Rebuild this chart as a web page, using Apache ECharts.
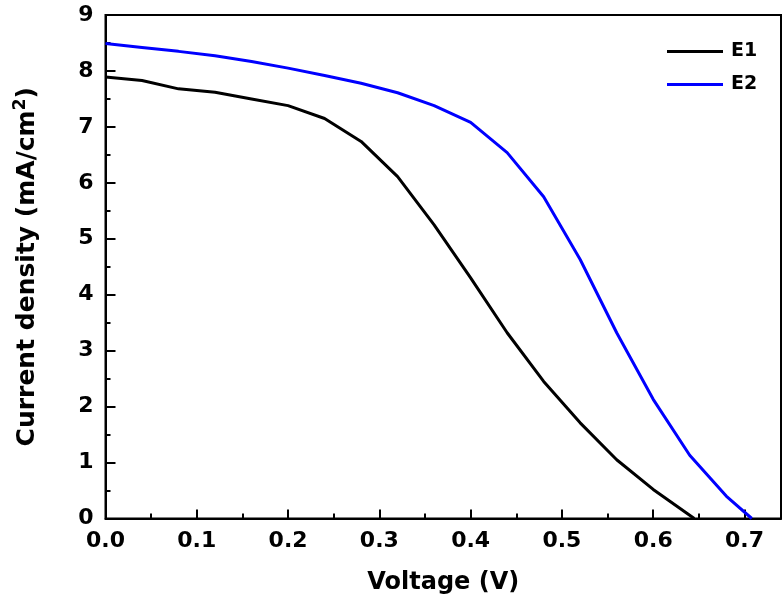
<!DOCTYPE html>
<html>
<head>
<meta charset="utf-8">
<script src="https://cdn.jsdelivr.net/npm/echarts@6/dist/echarts.min.js"></script>
<style>html,body{margin:0;padding:0;background:#fff}#c{width:784px;height:608px}</style>
</head>
<body>
<div id="c"></div>
<script>
var voltageE1 = [0, 0.04, 0.08, 0.12, 0.16, 0.20, 0.24, 0.28, 0.32, 0.36, 0.40, 0.44, 0.48, 0.52, 0.56, 0.60, 0.645];
var currentE1 = [7.89, 7.83, 7.68, 7.62, 7.50, 7.38, 7.15, 6.74, 6.11, 5.25, 4.30, 3.32, 2.45, 1.71, 1.05, 0.52, 0];
var voltageE2 = [0, 0.04, 0.08, 0.12, 0.16, 0.20, 0.24, 0.28, 0.32, 0.36, 0.40, 0.44, 0.48, 0.52, 0.56, 0.60, 0.64, 0.68, 0.708];
var currentE2 = [8.49, 8.42, 8.35, 8.27, 8.17, 8.05, 7.92, 7.78, 7.61, 7.38, 7.08, 6.54, 5.75, 4.63, 3.32, 2.13, 1.13, 0.40, 0];
var seriesNames = ['E1', 'E2'];
var seriesColors = ['#000000', '#0000ff'];
var xTitle = 'Voltage (V)';
var yTitle = 'Current density (mA/cm';

function pairs(xs, ys) { return xs.map(function (x, i) { return [x, ys[i]]; }); }

var FONT = '"DejaVu Sans", sans-serif';
var chart = echarts.init(document.getElementById('c'), null, { renderer: 'canvas' });
chart.setOption({
  animation: false,
  backgroundColor: '#fff',
  grid: { left: 105.5, right: 3, top: 15, bottom: 89.5, show: true, borderColor: '#000', borderWidth: 2, backgroundColor: 'transparent' },
  legend: {
    orient: 'vertical', left: 667, top: 42, padding: 0,
    icon: 'rect', itemWidth: 56, itemHeight: 3, itemGap: 14,
    textStyle: { fontFamily: FONT, fontWeight: 'bold', fontSize: 19, color: '#000', padding: [0, 0, 0, 3] },
    data: seriesNames
  },
  xAxis: {
    type: 'value', min: 0, max: 0.74, interval: 0.1,
    name: xTitle, nameLocation: 'middle', nameGap: 52,
    nameTextStyle: { fontFamily: FONT, fontWeight: 'bold', fontSize: 24, color: '#000' },
    axisLine: { show: true, lineStyle: { color: '#000', width: 2 } },
    axisTick: { show: true, inside: true, length: 9, lineStyle: { color: '#000', width: 2 } },
    minorTick: { show: true, splitNumber: 2, length: 5, lineStyle: { color: '#000', width: 2 } },
    axisLabel: { margin: 12, fontFamily: FONT, fontWeight: 'bold', fontSize: 22, color: '#000', showMaxLabel: false,
      formatter: function (v) { return v.toFixed(1); } },
    splitLine: { show: false }
  },
  yAxis: {
    type: 'value', min: 0, max: 9, interval: 1,
    name: '{a|' + yTitle + '}{s|2}{a|)}', nameLocation: 'middle', nameGap: 64, nameRotate: 90,
    nameTextStyle: {
      rich: {
        a: { fontFamily: FONT, fontWeight: 'bold', fontSize: 25, color: '#000' },
        s: { fontFamily: FONT, fontWeight: 'bold', fontSize: 17, color: '#000', verticalAlign: 'top', padding: [0, 0, 12, 0] }
      }
    },
    axisLine: { show: true, lineStyle: { color: '#000', width: 2 } },
    axisTick: { show: true, inside: true, length: 10, lineStyle: { color: '#000', width: 2 } },
    minorTick: { show: true, splitNumber: 2, length: 5, lineStyle: { color: '#000', width: 2 } },
    axisLabel: { margin: 12, fontFamily: FONT, fontWeight: 'bold', fontSize: 22, color: '#000' },
    splitLine: { show: false }
  },
  series: [
    { name: seriesNames[0], type: 'line', symbol: 'none', data: pairs(voltageE1, currentE1),
      lineStyle: { color: seriesColors[0], width: 3 }, itemStyle: { color: seriesColors[0] } },
    { name: seriesNames[1], type: 'line', symbol: 'none', data: pairs(voltageE2, currentE2),
      lineStyle: { color: seriesColors[1], width: 3 }, itemStyle: { color: seriesColors[1] } }
  ]
});
</script>
</body>
</html>
